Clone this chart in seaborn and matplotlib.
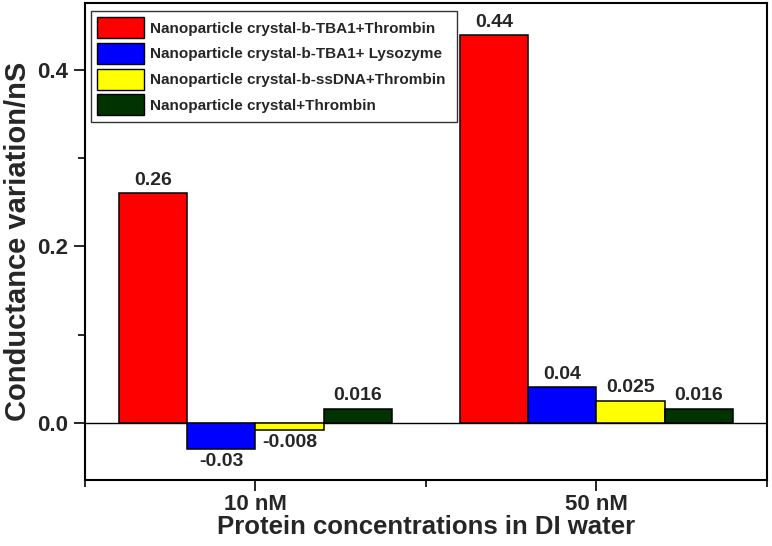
import numpy as np
import pandas as pd
import matplotlib
matplotlib.use("Agg")
import matplotlib.pyplot as plt
import seaborn as sns
from matplotlib.patches import Patch
from matplotlib.ticker import FixedLocator

# data
concentrations = ["10 nM", "50 nM"]
series_names = [
    "Nanoparticle crystal-b-TBA1+Thrombin",
    "Nanoparticle crystal-b-TBA1+ Lysozyme",
    "Nanoparticle crystal-b-ssDNA+Thrombin",
    "Nanoparticle crystal+Thrombin",
]
tba1_thrombin = [0.26, 0.44]
tba1_lysozyme = [-0.03, 0.04]
ssdna_thrombin = [-0.008, 0.025]
crystal_thrombin = [0.016, 0.016]
value_labels = [
    ["0.26", "0.44"],
    ["-0.03", "0.04"],
    ["-0.008", "0.025"],
    ["0.016", "0.016"],
]
bar_colors = ["#ff0000", "#0000ff", "#ffff00", "#003300"]

all_values = [tba1_thrombin, tba1_lysozyme, ssdna_thrombin, crystal_thrombin]
rows = []
for name, vals in zip(series_names, all_values):
    for conc, v in zip(concentrations, vals):
        rows.append({"conc": conc, "series": name, "value": v})
df = pd.DataFrame(rows)

sns.set_theme(style="ticks")
plt.rcParams["font.family"] = ["Liberation Sans", "DejaVu Sans"]
plt.rcParams["font.weight"] = "bold"

fig = plt.figure(figsize=(7.72, 5.46), dpi=100)
ax = fig.add_axes([0.1101, 0.1209, 0.8834, 0.8736])

sns.barplot(data=df, x="conc", y="value", hue="series", order=concentrations,
            hue_order=series_names, palette=bar_colors, edgecolor="black",
            linewidth=1.1, saturation=1, ax=ax, errorbar=None, legend=False)

for cont, labs in zip(ax.containers, value_labels):
    ax.bar_label(cont, labels=labs, padding=3, fontsize=14, fontweight="bold")

ax.axhline(0, color="black", lw=1.0, zorder=0)
ax.set_ylim(-0.065, 0.476)
ax.set_xlim(-0.5, 1.5)
ax.yaxis.set_major_locator(FixedLocator([0.0, 0.2, 0.4]))
ax.yaxis.set_minor_locator(FixedLocator([0.1, 0.3]))
ax.xaxis.set_minor_locator(FixedLocator([-0.5, 0.5, 1.5]))
ax.set_yticklabels(["0.0", "0.2", "0.4"])

ax.tick_params(axis="both", which="major", direction="out", length=8, width=1.4,
               labelsize=16)
ax.tick_params(axis="both", which="minor", direction="out", length=5, width=1.4)
ax.tick_params(axis="x", pad=2)
ax.tick_params(axis="y", pad=4)
for lab in ax.get_xticklabels() + ax.get_yticklabels():
    lab.set_fontweight("bold")
for sp in ax.spines.values():
    sp.set_visible(True)
    sp.set_linewidth(1.5)
    sp.set_color("black")

ax.set_xlabel("Protein concentrations in DI water", fontsize=18.5, fontweight="bold",
              labelpad=0)
ax.set_ylabel("Conductance variation/nS", fontsize=21, fontweight="bold", labelpad=4)

handles = [Patch(facecolor=c, edgecolor="black", linewidth=1.0) for c in bar_colors]
leg = ax.legend(handles, series_names, loc="upper left",
                bbox_to_anchor=(0.0088, 0.5, 0.537, 0.483), mode="expand",
                frameon=True, fancybox=False, edgecolor="black", handlelength=3.1,
                handleheight=1.75, labelspacing=0.3, borderpad=0.4,
                handletextpad=0.35, borderaxespad=0,
                prop={"weight": "bold", "size": 11})
leg.get_frame().set_linewidth(1.0)

fig.savefig("out.png", dpi=100)
